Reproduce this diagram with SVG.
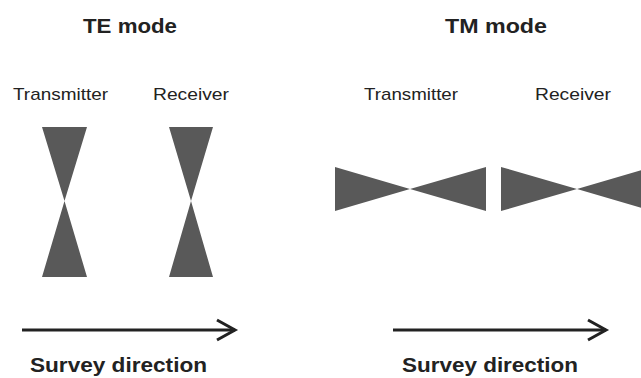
<svg xmlns="http://www.w3.org/2000/svg" width="641" height="378" viewBox="0 0 641 378">
<style>
.title{font-family:"Liberation Sans",Arial,sans-serif;font-weight:bold;font-size:21px;fill:#222}
.lbl{font-family:"Liberation Sans",Arial,sans-serif;font-size:17px;fill:#222}
.sd{font-family:"Liberation Sans",Arial,sans-serif;font-weight:bold;font-size:20px;fill:#222}
.ant{fill:#595959}
.arr{stroke:#222;stroke-width:3;fill:none}
</style>
<rect width="641" height="378" fill="#fff"/>
<g id="te-title"><text class="title" x="83" y="33" textLength="94" lengthAdjust="spacingAndGlyphs">TE mode</text></g>
<g id="tm-title"><text class="title" x="445" y="33" textLength="102" lengthAdjust="spacingAndGlyphs">TM mode</text></g>
<g id="te-transmitter">
<text class="lbl" x="13" y="100" textLength="95" lengthAdjust="spacingAndGlyphs">Transmitter</text>
<polygon class="ant" points="42,127 87,127 64.5,201 87,277 42,277 64.5,201"/>
</g>
<g id="te-receiver">
<text class="lbl" x="153" y="100" textLength="76" lengthAdjust="spacingAndGlyphs">Receiver</text>
<polygon class="ant" points="169,127 213,127 191,201 213,277 169,277 191,201"/>
</g>
<g id="tm-transmitter">
<text class="lbl" x="364" y="100" textLength="94" lengthAdjust="spacingAndGlyphs">Transmitter</text>
<polygon class="ant" points="335,167 410,189 486,167 486,211 410,189 335,211"/>
</g>
<g id="tm-receiver">
<text class="lbl" x="535" y="100" textLength="76" lengthAdjust="spacingAndGlyphs">Receiver</text>
<polygon class="ant" points="501,167 577,189 652,167 652,211 577,189 501,211"/>
</g>
<g id="connectors">
<line class="arr" x1="22" y1="330" x2="235" y2="330"/>
<polyline class="arr" points="217,320 235,330 217,340"/>
<line class="arr" x1="393" y1="330" x2="606" y2="330"/>
<polyline class="arr" points="588,320 606,330 588,340"/>
</g>
<g id="te-survey"><text class="sd" x="30" y="372" textLength="177" lengthAdjust="spacingAndGlyphs">Survey direction</text></g>
<g id="tm-survey"><text class="sd" x="402" y="372" textLength="176" lengthAdjust="spacingAndGlyphs">Survey direction</text></g>
</svg>
